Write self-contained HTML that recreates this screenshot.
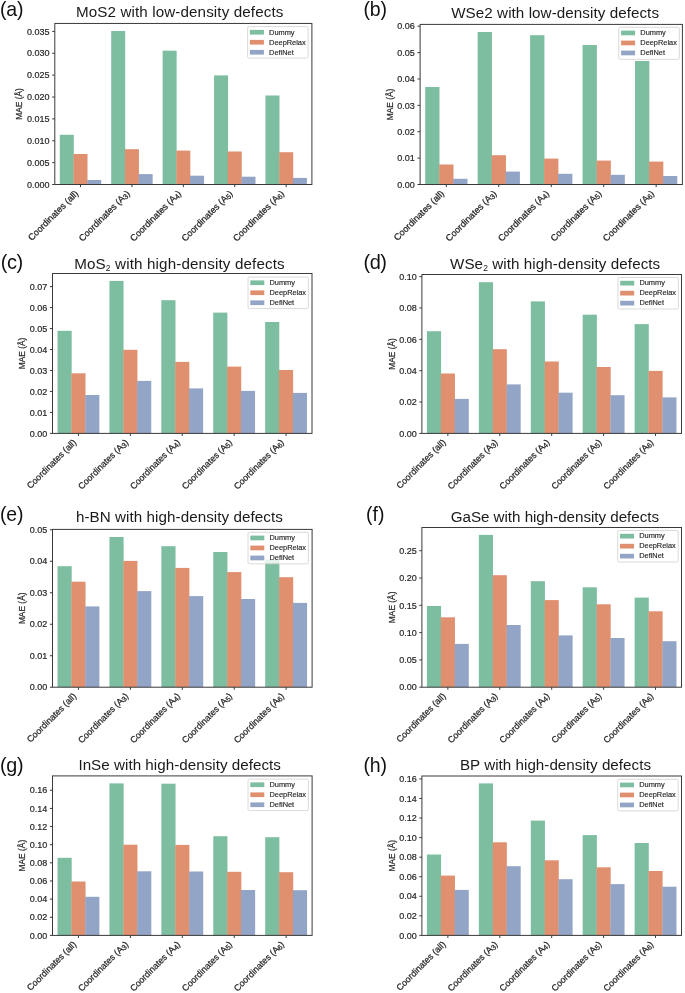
<!DOCTYPE html>
<html><head><meta charset="utf-8"><style>
html,body{margin:0;padding:0;background:#fff;overflow:hidden;}
svg{display:block;font-family:"Liberation Sans", sans-serif;will-change:transform;}
</style></head><body>
<svg width="685" height="993" viewBox="0 0 685 993">
<rect width="685" height="993" fill="#ffffff"/>
<rect x="59.79" y="134.8" width="14.01" height="49.7" fill="#7dbda0"/>
<rect x="73.5" y="154" width="14.01" height="30.5" fill="#e0906f"/>
<rect x="87.22" y="180" width="14.01" height="4.5" fill="#93a5c6"/>
<rect x="111.21" y="31" width="14.01" height="153.5" fill="#7dbda0"/>
<rect x="124.92" y="149.2" width="14.01" height="35.3" fill="#e0906f"/>
<rect x="138.64" y="174.1" width="14.01" height="10.4" fill="#93a5c6"/>
<rect x="162.63" y="50.7" width="14.01" height="133.8" fill="#7dbda0"/>
<rect x="176.34" y="150.6" width="14.01" height="33.9" fill="#e0906f"/>
<rect x="190.06" y="175.7" width="14.01" height="8.8" fill="#93a5c6"/>
<rect x="214.05" y="75.4" width="14.01" height="109.1" fill="#7dbda0"/>
<rect x="227.76" y="151.5" width="14.01" height="33" fill="#e0906f"/>
<rect x="241.48" y="176.7" width="14.01" height="7.8" fill="#93a5c6"/>
<rect x="265.47" y="95.5" width="14.01" height="89" fill="#7dbda0"/>
<rect x="279.18" y="152.2" width="14.01" height="32.3" fill="#e0906f"/>
<rect x="292.9" y="177.9" width="14.01" height="6.6" fill="#93a5c6"/>
<rect x="54.8" y="23.45" width="257.1" height="161.05" fill="none" stroke="#3a3a3a" stroke-width="1"/>
<line x1="52.2" y1="184.5" x2="54.8" y2="184.5" stroke="#3a3a3a" stroke-width="1"/>
<text x="49.6" y="187.7" font-size="9" text-anchor="end" fill="#262626" stroke="#262626" stroke-width="0.2">0.000</text>
<line x1="52.2" y1="162.63" x2="54.8" y2="162.63" stroke="#3a3a3a" stroke-width="1"/>
<text x="49.6" y="165.83" font-size="9" text-anchor="end" fill="#262626" stroke="#262626" stroke-width="0.2">0.005</text>
<line x1="52.2" y1="140.76" x2="54.8" y2="140.76" stroke="#3a3a3a" stroke-width="1"/>
<text x="49.6" y="143.96" font-size="9" text-anchor="end" fill="#262626" stroke="#262626" stroke-width="0.2">0.010</text>
<line x1="52.2" y1="118.89" x2="54.8" y2="118.89" stroke="#3a3a3a" stroke-width="1"/>
<text x="49.6" y="122.09" font-size="9" text-anchor="end" fill="#262626" stroke="#262626" stroke-width="0.2">0.015</text>
<line x1="52.2" y1="97.02" x2="54.8" y2="97.02" stroke="#3a3a3a" stroke-width="1"/>
<text x="49.6" y="100.22" font-size="9" text-anchor="end" fill="#262626" stroke="#262626" stroke-width="0.2">0.020</text>
<line x1="52.2" y1="75.15" x2="54.8" y2="75.15" stroke="#3a3a3a" stroke-width="1"/>
<text x="49.6" y="78.35" font-size="9" text-anchor="end" fill="#262626" stroke="#262626" stroke-width="0.2">0.025</text>
<line x1="52.2" y1="53.28" x2="54.8" y2="53.28" stroke="#3a3a3a" stroke-width="1"/>
<text x="49.6" y="56.48" font-size="9" text-anchor="end" fill="#262626" stroke="#262626" stroke-width="0.2">0.030</text>
<line x1="52.2" y1="31.41" x2="54.8" y2="31.41" stroke="#3a3a3a" stroke-width="1"/>
<text x="49.6" y="34.61" font-size="9" text-anchor="end" fill="#262626" stroke="#262626" stroke-width="0.2">0.035</text>
<line x1="80.51" y1="184.5" x2="80.51" y2="187.1" stroke="#3a3a3a" stroke-width="1"/>
<text transform="translate(78.91,194) rotate(-45)" font-size="9.12" text-anchor="end" fill="#262626" stroke="#262626" stroke-width="0.25">Coordinates (all)</text>
<line x1="131.93" y1="184.5" x2="131.93" y2="187.1" stroke="#3a3a3a" stroke-width="1"/>
<text transform="translate(130.33,194) rotate(-45)" font-size="9.12" text-anchor="end" fill="#262626" stroke="#262626" stroke-width="0.25">Coordinates (A<tspan font-size="7.2" dy="1">3</tspan><tspan dy="-1">)</tspan></text>
<line x1="183.35" y1="184.5" x2="183.35" y2="187.1" stroke="#3a3a3a" stroke-width="1"/>
<text transform="translate(181.75,194) rotate(-45)" font-size="9.12" text-anchor="end" fill="#262626" stroke="#262626" stroke-width="0.25">Coordinates (A<tspan font-size="7.2" dy="1">4</tspan><tspan dy="-1">)</tspan></text>
<line x1="234.77" y1="184.5" x2="234.77" y2="187.1" stroke="#3a3a3a" stroke-width="1"/>
<text transform="translate(233.17,194) rotate(-45)" font-size="9.12" text-anchor="end" fill="#262626" stroke="#262626" stroke-width="0.25">Coordinates (A<tspan font-size="7.2" dy="1">5</tspan><tspan dy="-1">)</tspan></text>
<line x1="286.19" y1="184.5" x2="286.19" y2="187.1" stroke="#3a3a3a" stroke-width="1"/>
<text transform="translate(284.59,194) rotate(-45)" font-size="9.12" text-anchor="end" fill="#262626" stroke="#262626" stroke-width="0.25">Coordinates (A<tspan font-size="7.2" dy="1">6</tspan><tspan dy="-1">)</tspan></text>
<text transform="translate(21.9,103.97) rotate(-90)" font-size="8.4" text-anchor="middle" fill="#262626" stroke="#262626" stroke-width="0.2">MAE (Å)</text>
<rect x="247.6" y="26.6" width="60.5" height="31.5" rx="1.5" fill="#ffffff" fill-opacity="0.8" stroke="#d0d0d0" stroke-width="0.8"/>
<rect x="249.9" y="29.9" width="14" height="4.7" fill="#7dbda0"/>
<text x="269.1" y="34.5" font-size="7.4" fill="#262626" stroke="#262626" stroke-width="0.15">Dummy</text>
<rect x="249.9" y="39.9" width="14" height="4.7" fill="#e0906f"/>
<text x="269.1" y="44.5" font-size="7.4" fill="#262626" stroke="#262626" stroke-width="0.15">DeepRelax</text>
<rect x="249.9" y="49.9" width="14" height="4.7" fill="#93a5c6"/>
<text x="269.1" y="54.5" font-size="7.4" fill="#262626" stroke="#262626" stroke-width="0.15">DefiNet</text>
<text x="75.9" y="17" font-size="15.2" fill="#1a1a1a" textLength="207.5" lengthAdjust="spacing">MoS2 with low-density defects</text>
<text x="-0.11" y="15.86" font-size="19.53" fill="#111" textLength="23.58" lengthAdjust="spacing">(a)</text>
<rect x="425.2" y="87" width="14.29" height="97.5" fill="#7dbda0"/>
<rect x="439.19" y="164.5" width="14.29" height="20" fill="#e0906f"/>
<rect x="453.17" y="178.8" width="14.29" height="5.7" fill="#93a5c6"/>
<rect x="477.66" y="32" width="14.29" height="152.5" fill="#7dbda0"/>
<rect x="491.65" y="155.2" width="14.29" height="29.3" fill="#e0906f"/>
<rect x="505.63" y="171.6" width="14.29" height="12.9" fill="#93a5c6"/>
<rect x="530.12" y="35.2" width="14.29" height="149.3" fill="#7dbda0"/>
<rect x="544.11" y="158.6" width="14.29" height="25.9" fill="#e0906f"/>
<rect x="558.09" y="173.8" width="14.29" height="10.7" fill="#93a5c6"/>
<rect x="582.58" y="45" width="14.29" height="139.5" fill="#7dbda0"/>
<rect x="596.57" y="160.6" width="14.29" height="23.9" fill="#e0906f"/>
<rect x="610.55" y="174.8" width="14.29" height="9.7" fill="#93a5c6"/>
<rect x="635.04" y="61" width="14.29" height="123.5" fill="#7dbda0"/>
<rect x="649.03" y="161.6" width="14.29" height="22.9" fill="#e0906f"/>
<rect x="663.01" y="176" width="14.29" height="8.5" fill="#93a5c6"/>
<rect x="420.1" y="24.4" width="262.3" height="160.1" fill="none" stroke="#3a3a3a" stroke-width="1"/>
<line x1="417.5" y1="184.5" x2="420.1" y2="184.5" stroke="#3a3a3a" stroke-width="1"/>
<text x="414.9" y="187.7" font-size="9" text-anchor="end" fill="#262626" stroke="#262626" stroke-width="0.2">0.00</text>
<line x1="417.5" y1="158.12" x2="420.1" y2="158.12" stroke="#3a3a3a" stroke-width="1"/>
<text x="414.9" y="161.32" font-size="9" text-anchor="end" fill="#262626" stroke="#262626" stroke-width="0.2">0.01</text>
<line x1="417.5" y1="131.74" x2="420.1" y2="131.74" stroke="#3a3a3a" stroke-width="1"/>
<text x="414.9" y="134.94" font-size="9" text-anchor="end" fill="#262626" stroke="#262626" stroke-width="0.2">0.02</text>
<line x1="417.5" y1="105.36" x2="420.1" y2="105.36" stroke="#3a3a3a" stroke-width="1"/>
<text x="414.9" y="108.56" font-size="9" text-anchor="end" fill="#262626" stroke="#262626" stroke-width="0.2">0.03</text>
<line x1="417.5" y1="78.98" x2="420.1" y2="78.98" stroke="#3a3a3a" stroke-width="1"/>
<text x="414.9" y="82.18" font-size="9" text-anchor="end" fill="#262626" stroke="#262626" stroke-width="0.2">0.04</text>
<line x1="417.5" y1="52.6" x2="420.1" y2="52.6" stroke="#3a3a3a" stroke-width="1"/>
<text x="414.9" y="55.8" font-size="9" text-anchor="end" fill="#262626" stroke="#262626" stroke-width="0.2">0.05</text>
<line x1="417.5" y1="26.22" x2="420.1" y2="26.22" stroke="#3a3a3a" stroke-width="1"/>
<text x="414.9" y="29.42" font-size="9" text-anchor="end" fill="#262626" stroke="#262626" stroke-width="0.2">0.06</text>
<line x1="446.33" y1="184.5" x2="446.33" y2="187.1" stroke="#3a3a3a" stroke-width="1"/>
<text transform="translate(444.73,194) rotate(-45)" font-size="9.12" text-anchor="end" fill="#262626" stroke="#262626" stroke-width="0.25">Coordinates (all)</text>
<line x1="498.79" y1="184.5" x2="498.79" y2="187.1" stroke="#3a3a3a" stroke-width="1"/>
<text transform="translate(497.19,194) rotate(-45)" font-size="9.12" text-anchor="end" fill="#262626" stroke="#262626" stroke-width="0.25">Coordinates (A<tspan font-size="7.2" dy="1">3</tspan><tspan dy="-1">)</tspan></text>
<line x1="551.25" y1="184.5" x2="551.25" y2="187.1" stroke="#3a3a3a" stroke-width="1"/>
<text transform="translate(549.65,194) rotate(-45)" font-size="9.12" text-anchor="end" fill="#262626" stroke="#262626" stroke-width="0.25">Coordinates (A<tspan font-size="7.2" dy="1">4</tspan><tspan dy="-1">)</tspan></text>
<line x1="603.71" y1="184.5" x2="603.71" y2="187.1" stroke="#3a3a3a" stroke-width="1"/>
<text transform="translate(602.11,194) rotate(-45)" font-size="9.12" text-anchor="end" fill="#262626" stroke="#262626" stroke-width="0.25">Coordinates (A<tspan font-size="7.2" dy="1">5</tspan><tspan dy="-1">)</tspan></text>
<line x1="656.17" y1="184.5" x2="656.17" y2="187.1" stroke="#3a3a3a" stroke-width="1"/>
<text transform="translate(654.57,194) rotate(-45)" font-size="9.12" text-anchor="end" fill="#262626" stroke="#262626" stroke-width="0.25">Coordinates (A<tspan font-size="7.2" dy="1">6</tspan><tspan dy="-1">)</tspan></text>
<text transform="translate(392.9,104.45) rotate(-90)" font-size="8.4" text-anchor="middle" fill="#262626" stroke="#262626" stroke-width="0.2">MAE (Å)</text>
<rect x="618.8" y="27.3" width="60.5" height="32.1" rx="1.5" fill="#ffffff" fill-opacity="0.8" stroke="#d0d0d0" stroke-width="0.8"/>
<rect x="621.1" y="30.6" width="14" height="4.7" fill="#7dbda0"/>
<text x="640.3" y="35.2" font-size="7.4" fill="#262626" stroke="#262626" stroke-width="0.15">Dummy</text>
<rect x="621.1" y="40.6" width="14" height="4.7" fill="#e0906f"/>
<text x="640.3" y="45.2" font-size="7.4" fill="#262626" stroke="#262626" stroke-width="0.15">DeepRelax</text>
<rect x="621.1" y="50.6" width="14" height="4.7" fill="#93a5c6"/>
<text x="640.3" y="55.2" font-size="7.4" fill="#262626" stroke="#262626" stroke-width="0.15">DefiNet</text>
<text x="451.2" y="17.5" font-size="15.2" fill="#1a1a1a" textLength="207.8" lengthAdjust="spacing">WSe2 with low-density defects</text>
<text x="363.59" y="15.86" font-size="19.53" fill="#111" textLength="23.38" lengthAdjust="spacing">(b)</text>
<rect x="57.54" y="330.8" width="14.14" height="102.6" fill="#7dbda0"/>
<rect x="71.38" y="373.3" width="14.14" height="60.1" fill="#e0906f"/>
<rect x="85.22" y="395" width="14.14" height="38.4" fill="#93a5c6"/>
<rect x="109.44" y="280.9" width="14.14" height="152.5" fill="#7dbda0"/>
<rect x="123.28" y="349.8" width="14.14" height="83.6" fill="#e0906f"/>
<rect x="137.12" y="380.9" width="14.14" height="52.5" fill="#93a5c6"/>
<rect x="161.34" y="300.2" width="14.14" height="133.2" fill="#7dbda0"/>
<rect x="175.18" y="361.9" width="14.14" height="71.5" fill="#e0906f"/>
<rect x="189.02" y="388.4" width="14.14" height="45" fill="#93a5c6"/>
<rect x="213.24" y="312.6" width="14.14" height="120.8" fill="#7dbda0"/>
<rect x="227.08" y="366.6" width="14.14" height="66.8" fill="#e0906f"/>
<rect x="240.92" y="390.9" width="14.14" height="42.5" fill="#93a5c6"/>
<rect x="265.14" y="322" width="14.14" height="111.4" fill="#7dbda0"/>
<rect x="278.98" y="370" width="14.14" height="63.4" fill="#e0906f"/>
<rect x="292.82" y="392.9" width="14.14" height="40.5" fill="#93a5c6"/>
<rect x="52.5" y="273.5" width="259.5" height="159.9" fill="none" stroke="#3a3a3a" stroke-width="1"/>
<line x1="49.9" y1="433.4" x2="52.5" y2="433.4" stroke="#3a3a3a" stroke-width="1"/>
<text x="47.3" y="436.6" font-size="9" text-anchor="end" fill="#262626" stroke="#262626" stroke-width="0.2">0.00</text>
<line x1="49.9" y1="412.43" x2="52.5" y2="412.43" stroke="#3a3a3a" stroke-width="1"/>
<text x="47.3" y="415.63" font-size="9" text-anchor="end" fill="#262626" stroke="#262626" stroke-width="0.2">0.01</text>
<line x1="49.9" y1="391.46" x2="52.5" y2="391.46" stroke="#3a3a3a" stroke-width="1"/>
<text x="47.3" y="394.66" font-size="9" text-anchor="end" fill="#262626" stroke="#262626" stroke-width="0.2">0.02</text>
<line x1="49.9" y1="370.49" x2="52.5" y2="370.49" stroke="#3a3a3a" stroke-width="1"/>
<text x="47.3" y="373.69" font-size="9" text-anchor="end" fill="#262626" stroke="#262626" stroke-width="0.2">0.03</text>
<line x1="49.9" y1="349.52" x2="52.5" y2="349.52" stroke="#3a3a3a" stroke-width="1"/>
<text x="47.3" y="352.72" font-size="9" text-anchor="end" fill="#262626" stroke="#262626" stroke-width="0.2">0.04</text>
<line x1="49.9" y1="328.55" x2="52.5" y2="328.55" stroke="#3a3a3a" stroke-width="1"/>
<text x="47.3" y="331.75" font-size="9" text-anchor="end" fill="#262626" stroke="#262626" stroke-width="0.2">0.05</text>
<line x1="49.9" y1="307.58" x2="52.5" y2="307.58" stroke="#3a3a3a" stroke-width="1"/>
<text x="47.3" y="310.78" font-size="9" text-anchor="end" fill="#262626" stroke="#262626" stroke-width="0.2">0.06</text>
<line x1="49.9" y1="286.61" x2="52.5" y2="286.61" stroke="#3a3a3a" stroke-width="1"/>
<text x="47.3" y="289.81" font-size="9" text-anchor="end" fill="#262626" stroke="#262626" stroke-width="0.2">0.07</text>
<line x1="78.45" y1="433.4" x2="78.45" y2="436" stroke="#3a3a3a" stroke-width="1"/>
<text transform="translate(76.85,442.9) rotate(-45)" font-size="8.94" text-anchor="end" fill="#262626" stroke="#262626" stroke-width="0.25">Coordinates (all)</text>
<line x1="130.35" y1="433.4" x2="130.35" y2="436" stroke="#3a3a3a" stroke-width="1"/>
<text transform="translate(128.75,442.9) rotate(-45)" font-size="8.94" text-anchor="end" fill="#262626" stroke="#262626" stroke-width="0.25">Coordinates (A<tspan font-size="7.2" dy="1">3</tspan><tspan dy="-1">)</tspan></text>
<line x1="182.25" y1="433.4" x2="182.25" y2="436" stroke="#3a3a3a" stroke-width="1"/>
<text transform="translate(180.65,442.9) rotate(-45)" font-size="8.94" text-anchor="end" fill="#262626" stroke="#262626" stroke-width="0.25">Coordinates (A<tspan font-size="7.2" dy="1">4</tspan><tspan dy="-1">)</tspan></text>
<line x1="234.15" y1="433.4" x2="234.15" y2="436" stroke="#3a3a3a" stroke-width="1"/>
<text transform="translate(232.55,442.9) rotate(-45)" font-size="8.94" text-anchor="end" fill="#262626" stroke="#262626" stroke-width="0.25">Coordinates (A<tspan font-size="7.2" dy="1">5</tspan><tspan dy="-1">)</tspan></text>
<line x1="286.05" y1="433.4" x2="286.05" y2="436" stroke="#3a3a3a" stroke-width="1"/>
<text transform="translate(284.45,442.9) rotate(-45)" font-size="8.94" text-anchor="end" fill="#262626" stroke="#262626" stroke-width="0.25">Coordinates (A<tspan font-size="7.2" dy="1">6</tspan><tspan dy="-1">)</tspan></text>
<text transform="translate(25.4,353.45) rotate(-90)" font-size="8.4" text-anchor="middle" fill="#262626" stroke="#262626" stroke-width="0.2">MAE (Å)</text>
<rect x="248" y="277.1" width="60.4" height="31.5" rx="1.5" fill="#ffffff" fill-opacity="0.8" stroke="#d0d0d0" stroke-width="0.8"/>
<rect x="250.3" y="280.4" width="14" height="4.7" fill="#7dbda0"/>
<text x="269.5" y="285" font-size="7.4" fill="#262626" stroke="#262626" stroke-width="0.15">Dummy</text>
<rect x="250.3" y="290.4" width="14" height="4.7" fill="#e0906f"/>
<text x="269.5" y="295" font-size="7.4" fill="#262626" stroke="#262626" stroke-width="0.15">DeepRelax</text>
<rect x="250.3" y="300.4" width="14" height="4.7" fill="#93a5c6"/>
<text x="269.5" y="305" font-size="7.4" fill="#262626" stroke="#262626" stroke-width="0.15">DefiNet</text>
<text x="74.2" y="268.5" font-size="15.2" fill="#1a1a1a" textLength="210.5" lengthAdjust="spacing">MoS<tspan font-size="8.5" dy="2.2">2</tspan><tspan dy="-2.2"> with high-density defects</tspan></text>
<text x="0.76" y="269.27" font-size="19.96" fill="#111" textLength="22.33" lengthAdjust="spacing">(c)</text>
<rect x="426.94" y="331.2" width="14.15" height="102.2" fill="#7dbda0"/>
<rect x="440.79" y="373.5" width="14.15" height="59.9" fill="#e0906f"/>
<rect x="454.63" y="398.9" width="14.15" height="34.5" fill="#93a5c6"/>
<rect x="478.86" y="282.2" width="14.15" height="151.2" fill="#7dbda0"/>
<rect x="492.71" y="349.2" width="14.15" height="84.2" fill="#e0906f"/>
<rect x="506.55" y="384.4" width="14.15" height="49" fill="#93a5c6"/>
<rect x="530.78" y="301.4" width="14.15" height="132" fill="#7dbda0"/>
<rect x="544.63" y="361.5" width="14.15" height="71.9" fill="#e0906f"/>
<rect x="558.47" y="392.7" width="14.15" height="40.7" fill="#93a5c6"/>
<rect x="582.7" y="314.7" width="14.15" height="118.7" fill="#7dbda0"/>
<rect x="596.55" y="367" width="14.15" height="66.4" fill="#e0906f"/>
<rect x="610.39" y="395.2" width="14.15" height="38.2" fill="#93a5c6"/>
<rect x="634.62" y="324.1" width="14.15" height="109.3" fill="#7dbda0"/>
<rect x="648.47" y="370.9" width="14.15" height="62.5" fill="#e0906f"/>
<rect x="662.31" y="397.4" width="14.15" height="36" fill="#93a5c6"/>
<rect x="421.9" y="274.5" width="259.6" height="158.9" fill="none" stroke="#3a3a3a" stroke-width="1"/>
<line x1="419.3" y1="433.4" x2="421.9" y2="433.4" stroke="#3a3a3a" stroke-width="1"/>
<text x="416.7" y="436.6" font-size="9" text-anchor="end" fill="#262626" stroke="#262626" stroke-width="0.2">0.00</text>
<line x1="419.3" y1="402.04" x2="421.9" y2="402.04" stroke="#3a3a3a" stroke-width="1"/>
<text x="416.7" y="405.24" font-size="9" text-anchor="end" fill="#262626" stroke="#262626" stroke-width="0.2">0.02</text>
<line x1="419.3" y1="370.68" x2="421.9" y2="370.68" stroke="#3a3a3a" stroke-width="1"/>
<text x="416.7" y="373.88" font-size="9" text-anchor="end" fill="#262626" stroke="#262626" stroke-width="0.2">0.04</text>
<line x1="419.3" y1="339.32" x2="421.9" y2="339.32" stroke="#3a3a3a" stroke-width="1"/>
<text x="416.7" y="342.52" font-size="9" text-anchor="end" fill="#262626" stroke="#262626" stroke-width="0.2">0.06</text>
<line x1="419.3" y1="307.96" x2="421.9" y2="307.96" stroke="#3a3a3a" stroke-width="1"/>
<text x="416.7" y="311.16" font-size="9" text-anchor="end" fill="#262626" stroke="#262626" stroke-width="0.2">0.08</text>
<line x1="419.3" y1="276.6" x2="421.9" y2="276.6" stroke="#3a3a3a" stroke-width="1"/>
<text x="416.7" y="279.8" font-size="9" text-anchor="end" fill="#262626" stroke="#262626" stroke-width="0.2">0.10</text>
<line x1="447.86" y1="433.4" x2="447.86" y2="436" stroke="#3a3a3a" stroke-width="1"/>
<text transform="translate(446.26,442.9) rotate(-45)" font-size="8.94" text-anchor="end" fill="#262626" stroke="#262626" stroke-width="0.25">Coordinates (all)</text>
<line x1="499.78" y1="433.4" x2="499.78" y2="436" stroke="#3a3a3a" stroke-width="1"/>
<text transform="translate(498.18,442.9) rotate(-45)" font-size="8.94" text-anchor="end" fill="#262626" stroke="#262626" stroke-width="0.25">Coordinates (A<tspan font-size="7.2" dy="1">3</tspan><tspan dy="-1">)</tspan></text>
<line x1="551.7" y1="433.4" x2="551.7" y2="436" stroke="#3a3a3a" stroke-width="1"/>
<text transform="translate(550.1,442.9) rotate(-45)" font-size="8.94" text-anchor="end" fill="#262626" stroke="#262626" stroke-width="0.25">Coordinates (A<tspan font-size="7.2" dy="1">4</tspan><tspan dy="-1">)</tspan></text>
<line x1="603.62" y1="433.4" x2="603.62" y2="436" stroke="#3a3a3a" stroke-width="1"/>
<text transform="translate(602.02,442.9) rotate(-45)" font-size="8.94" text-anchor="end" fill="#262626" stroke="#262626" stroke-width="0.25">Coordinates (A<tspan font-size="7.2" dy="1">5</tspan><tspan dy="-1">)</tspan></text>
<line x1="655.54" y1="433.4" x2="655.54" y2="436" stroke="#3a3a3a" stroke-width="1"/>
<text transform="translate(653.94,442.9) rotate(-45)" font-size="8.94" text-anchor="end" fill="#262626" stroke="#262626" stroke-width="0.25">Coordinates (A<tspan font-size="7.2" dy="1">6</tspan><tspan dy="-1">)</tspan></text>
<text transform="translate(395.4,353.95) rotate(-90)" font-size="8.4" text-anchor="middle" fill="#262626" stroke="#262626" stroke-width="0.2">MAE (Å)</text>
<rect x="617.9" y="277.5" width="60.5" height="31.5" rx="1.5" fill="#ffffff" fill-opacity="0.8" stroke="#d0d0d0" stroke-width="0.8"/>
<rect x="620.2" y="280.8" width="14" height="4.7" fill="#7dbda0"/>
<text x="639.4" y="285.4" font-size="7.4" fill="#262626" stroke="#262626" stroke-width="0.15">Dummy</text>
<rect x="620.2" y="290.8" width="14" height="4.7" fill="#e0906f"/>
<text x="639.4" y="295.4" font-size="7.4" fill="#262626" stroke="#262626" stroke-width="0.15">DeepRelax</text>
<rect x="620.2" y="300.8" width="14" height="4.7" fill="#93a5c6"/>
<text x="639.4" y="305.4" font-size="7.4" fill="#262626" stroke="#262626" stroke-width="0.15">DefiNet</text>
<text x="450" y="268.5" font-size="15.2" fill="#1a1a1a" textLength="210.2" lengthAdjust="spacing">WSe<tspan font-size="8.5" dy="2.2">2</tspan><tspan dy="-2.2"> with high-density defects</tspan></text>
<text x="363.56" y="269.27" font-size="19.96" fill="#111" textLength="23.43" lengthAdjust="spacing">(d)</text>
<rect x="57.54" y="566.2" width="14.15" height="121" fill="#7dbda0"/>
<rect x="71.39" y="581.7" width="14.15" height="105.5" fill="#e0906f"/>
<rect x="85.23" y="606.4" width="14.15" height="80.8" fill="#93a5c6"/>
<rect x="109.46" y="537" width="14.15" height="150.2" fill="#7dbda0"/>
<rect x="123.31" y="560.9" width="14.15" height="126.3" fill="#e0906f"/>
<rect x="137.15" y="591.1" width="14.15" height="96.1" fill="#93a5c6"/>
<rect x="161.38" y="546.2" width="14.15" height="141" fill="#7dbda0"/>
<rect x="175.23" y="567.9" width="14.15" height="119.3" fill="#e0906f"/>
<rect x="189.07" y="596.1" width="14.15" height="91.1" fill="#93a5c6"/>
<rect x="213.3" y="552" width="14.15" height="135.2" fill="#7dbda0"/>
<rect x="227.15" y="572.1" width="14.15" height="115.1" fill="#e0906f"/>
<rect x="240.99" y="599" width="14.15" height="88.2" fill="#93a5c6"/>
<rect x="265.22" y="559.5" width="14.15" height="127.7" fill="#7dbda0"/>
<rect x="279.07" y="577.2" width="14.15" height="110" fill="#e0906f"/>
<rect x="292.91" y="602.9" width="14.15" height="84.3" fill="#93a5c6"/>
<rect x="52.5" y="529.4" width="259.6" height="157.8" fill="none" stroke="#3a3a3a" stroke-width="1"/>
<line x1="49.9" y1="687.2" x2="52.5" y2="687.2" stroke="#3a3a3a" stroke-width="1"/>
<text x="47.3" y="690.4" font-size="9" text-anchor="end" fill="#262626" stroke="#262626" stroke-width="0.2">0.00</text>
<line x1="49.9" y1="655.72" x2="52.5" y2="655.72" stroke="#3a3a3a" stroke-width="1"/>
<text x="47.3" y="658.92" font-size="9" text-anchor="end" fill="#262626" stroke="#262626" stroke-width="0.2">0.01</text>
<line x1="49.9" y1="624.24" x2="52.5" y2="624.24" stroke="#3a3a3a" stroke-width="1"/>
<text x="47.3" y="627.44" font-size="9" text-anchor="end" fill="#262626" stroke="#262626" stroke-width="0.2">0.02</text>
<line x1="49.9" y1="592.76" x2="52.5" y2="592.76" stroke="#3a3a3a" stroke-width="1"/>
<text x="47.3" y="595.96" font-size="9" text-anchor="end" fill="#262626" stroke="#262626" stroke-width="0.2">0.03</text>
<line x1="49.9" y1="561.28" x2="52.5" y2="561.28" stroke="#3a3a3a" stroke-width="1"/>
<text x="47.3" y="564.48" font-size="9" text-anchor="end" fill="#262626" stroke="#262626" stroke-width="0.2">0.04</text>
<line x1="49.9" y1="529.8" x2="52.5" y2="529.8" stroke="#3a3a3a" stroke-width="1"/>
<text x="47.3" y="533" font-size="9" text-anchor="end" fill="#262626" stroke="#262626" stroke-width="0.2">0.05</text>
<line x1="78.46" y1="687.2" x2="78.46" y2="689.8" stroke="#3a3a3a" stroke-width="1"/>
<text transform="translate(76.86,696.7) rotate(-45)" font-size="8.94" text-anchor="end" fill="#262626" stroke="#262626" stroke-width="0.25">Coordinates (all)</text>
<line x1="130.38" y1="687.2" x2="130.38" y2="689.8" stroke="#3a3a3a" stroke-width="1"/>
<text transform="translate(128.78,696.7) rotate(-45)" font-size="8.94" text-anchor="end" fill="#262626" stroke="#262626" stroke-width="0.25">Coordinates (A<tspan font-size="7.2" dy="1">3</tspan><tspan dy="-1">)</tspan></text>
<line x1="182.3" y1="687.2" x2="182.3" y2="689.8" stroke="#3a3a3a" stroke-width="1"/>
<text transform="translate(180.7,696.7) rotate(-45)" font-size="8.94" text-anchor="end" fill="#262626" stroke="#262626" stroke-width="0.25">Coordinates (A<tspan font-size="7.2" dy="1">4</tspan><tspan dy="-1">)</tspan></text>
<line x1="234.22" y1="687.2" x2="234.22" y2="689.8" stroke="#3a3a3a" stroke-width="1"/>
<text transform="translate(232.62,696.7) rotate(-45)" font-size="8.94" text-anchor="end" fill="#262626" stroke="#262626" stroke-width="0.25">Coordinates (A<tspan font-size="7.2" dy="1">5</tspan><tspan dy="-1">)</tspan></text>
<line x1="286.14" y1="687.2" x2="286.14" y2="689.8" stroke="#3a3a3a" stroke-width="1"/>
<text transform="translate(284.54,696.7) rotate(-45)" font-size="8.94" text-anchor="end" fill="#262626" stroke="#262626" stroke-width="0.25">Coordinates (A<tspan font-size="7.2" dy="1">6</tspan><tspan dy="-1">)</tspan></text>
<text transform="translate(25.4,608.3) rotate(-90)" font-size="8.4" text-anchor="middle" fill="#262626" stroke="#262626" stroke-width="0.2">MAE (Å)</text>
<rect x="248" y="532.3" width="60.4" height="31.5" rx="1.5" fill="#ffffff" fill-opacity="0.8" stroke="#d0d0d0" stroke-width="0.8"/>
<rect x="250.3" y="535.6" width="14" height="4.7" fill="#7dbda0"/>
<text x="269.5" y="540.2" font-size="7.4" fill="#262626" stroke="#262626" stroke-width="0.15">Dummy</text>
<rect x="250.3" y="545.6" width="14" height="4.7" fill="#e0906f"/>
<text x="269.5" y="550.2" font-size="7.4" fill="#262626" stroke="#262626" stroke-width="0.15">DeepRelax</text>
<rect x="250.3" y="555.6" width="14" height="4.7" fill="#93a5c6"/>
<text x="269.5" y="560.2" font-size="7.4" fill="#262626" stroke="#262626" stroke-width="0.15">DefiNet</text>
<text x="75.9" y="522.2" font-size="15.2" fill="#1a1a1a" textLength="207" lengthAdjust="spacing">h-BN with high-density defects</text>
<text x="-0.1" y="520.58" font-size="19.42" fill="#111" textLength="23.57" lengthAdjust="spacing">(e)</text>
<rect x="426.94" y="606" width="14.15" height="81.2" fill="#7dbda0"/>
<rect x="440.79" y="617.3" width="14.15" height="69.9" fill="#e0906f"/>
<rect x="454.63" y="643.9" width="14.15" height="43.3" fill="#93a5c6"/>
<rect x="478.86" y="534.9" width="14.15" height="152.3" fill="#7dbda0"/>
<rect x="492.71" y="575.2" width="14.15" height="112" fill="#e0906f"/>
<rect x="506.55" y="625" width="14.15" height="62.2" fill="#93a5c6"/>
<rect x="530.78" y="581.2" width="14.15" height="106" fill="#7dbda0"/>
<rect x="544.63" y="600.1" width="14.15" height="87.1" fill="#e0906f"/>
<rect x="558.47" y="635.4" width="14.15" height="51.8" fill="#93a5c6"/>
<rect x="582.7" y="587.3" width="14.15" height="99.9" fill="#7dbda0"/>
<rect x="596.55" y="604.3" width="14.15" height="82.9" fill="#e0906f"/>
<rect x="610.39" y="638" width="14.15" height="49.2" fill="#93a5c6"/>
<rect x="634.62" y="597.6" width="14.15" height="89.6" fill="#7dbda0"/>
<rect x="648.47" y="611.3" width="14.15" height="75.9" fill="#e0906f"/>
<rect x="662.31" y="641.2" width="14.15" height="46" fill="#93a5c6"/>
<rect x="421.9" y="527.5" width="259.6" height="159.7" fill="none" stroke="#3a3a3a" stroke-width="1"/>
<line x1="419.3" y1="687.2" x2="421.9" y2="687.2" stroke="#3a3a3a" stroke-width="1"/>
<text x="416.7" y="690.4" font-size="9" text-anchor="end" fill="#262626" stroke="#262626" stroke-width="0.2">0.00</text>
<line x1="419.3" y1="659.9" x2="421.9" y2="659.9" stroke="#3a3a3a" stroke-width="1"/>
<text x="416.7" y="663.1" font-size="9" text-anchor="end" fill="#262626" stroke="#262626" stroke-width="0.2">0.05</text>
<line x1="419.3" y1="632.6" x2="421.9" y2="632.6" stroke="#3a3a3a" stroke-width="1"/>
<text x="416.7" y="635.8" font-size="9" text-anchor="end" fill="#262626" stroke="#262626" stroke-width="0.2">0.10</text>
<line x1="419.3" y1="605.3" x2="421.9" y2="605.3" stroke="#3a3a3a" stroke-width="1"/>
<text x="416.7" y="608.5" font-size="9" text-anchor="end" fill="#262626" stroke="#262626" stroke-width="0.2">0.15</text>
<line x1="419.3" y1="578" x2="421.9" y2="578" stroke="#3a3a3a" stroke-width="1"/>
<text x="416.7" y="581.2" font-size="9" text-anchor="end" fill="#262626" stroke="#262626" stroke-width="0.2">0.20</text>
<line x1="419.3" y1="550.7" x2="421.9" y2="550.7" stroke="#3a3a3a" stroke-width="1"/>
<text x="416.7" y="553.9" font-size="9" text-anchor="end" fill="#262626" stroke="#262626" stroke-width="0.2">0.25</text>
<line x1="447.86" y1="687.2" x2="447.86" y2="689.8" stroke="#3a3a3a" stroke-width="1"/>
<text transform="translate(446.26,696.7) rotate(-45)" font-size="8.94" text-anchor="end" fill="#262626" stroke="#262626" stroke-width="0.25">Coordinates (all)</text>
<line x1="499.78" y1="687.2" x2="499.78" y2="689.8" stroke="#3a3a3a" stroke-width="1"/>
<text transform="translate(498.18,696.7) rotate(-45)" font-size="8.94" text-anchor="end" fill="#262626" stroke="#262626" stroke-width="0.25">Coordinates (A<tspan font-size="7.2" dy="1">3</tspan><tspan dy="-1">)</tspan></text>
<line x1="551.7" y1="687.2" x2="551.7" y2="689.8" stroke="#3a3a3a" stroke-width="1"/>
<text transform="translate(550.1,696.7) rotate(-45)" font-size="8.94" text-anchor="end" fill="#262626" stroke="#262626" stroke-width="0.25">Coordinates (A<tspan font-size="7.2" dy="1">4</tspan><tspan dy="-1">)</tspan></text>
<line x1="603.62" y1="687.2" x2="603.62" y2="689.8" stroke="#3a3a3a" stroke-width="1"/>
<text transform="translate(602.02,696.7) rotate(-45)" font-size="8.94" text-anchor="end" fill="#262626" stroke="#262626" stroke-width="0.25">Coordinates (A<tspan font-size="7.2" dy="1">5</tspan><tspan dy="-1">)</tspan></text>
<line x1="655.54" y1="687.2" x2="655.54" y2="689.8" stroke="#3a3a3a" stroke-width="1"/>
<text transform="translate(653.94,696.7) rotate(-45)" font-size="8.94" text-anchor="end" fill="#262626" stroke="#262626" stroke-width="0.25">Coordinates (A<tspan font-size="7.2" dy="1">6</tspan><tspan dy="-1">)</tspan></text>
<text transform="translate(395.4,607.35) rotate(-90)" font-size="8.4" text-anchor="middle" fill="#262626" stroke="#262626" stroke-width="0.2">MAE (Å)</text>
<rect x="617.7" y="530.5" width="60.5" height="31.5" rx="1.5" fill="#ffffff" fill-opacity="0.8" stroke="#d0d0d0" stroke-width="0.8"/>
<rect x="620" y="533.8" width="14" height="4.7" fill="#7dbda0"/>
<text x="639.2" y="538.4" font-size="7.4" fill="#262626" stroke="#262626" stroke-width="0.15">Dummy</text>
<rect x="620" y="543.8" width="14" height="4.7" fill="#e0906f"/>
<text x="639.2" y="548.4" font-size="7.4" fill="#262626" stroke="#262626" stroke-width="0.15">DeepRelax</text>
<rect x="620" y="553.8" width="14" height="4.7" fill="#93a5c6"/>
<text x="639.2" y="558.4" font-size="7.4" fill="#262626" stroke="#262626" stroke-width="0.15">DefiNet</text>
<text x="450.7" y="522.4" font-size="15.2" fill="#1a1a1a" textLength="208.3" lengthAdjust="spacing">GaSe with high-density defects</text>
<text x="366" y="520.58" font-size="19.42" fill="#111" textLength="18.37" lengthAdjust="spacing">(f)</text>
<rect x="57.54" y="857.8" width="14.15" height="77.6" fill="#7dbda0"/>
<rect x="71.39" y="881.5" width="14.15" height="53.9" fill="#e0906f"/>
<rect x="85.23" y="896.8" width="14.15" height="38.6" fill="#93a5c6"/>
<rect x="109.46" y="783.4" width="14.15" height="152" fill="#7dbda0"/>
<rect x="123.31" y="844.7" width="14.15" height="90.7" fill="#e0906f"/>
<rect x="137.15" y="871.3" width="14.15" height="64.1" fill="#93a5c6"/>
<rect x="161.38" y="783.7" width="14.15" height="151.7" fill="#7dbda0"/>
<rect x="175.23" y="844.9" width="14.15" height="90.5" fill="#e0906f"/>
<rect x="189.07" y="871.5" width="14.15" height="63.9" fill="#93a5c6"/>
<rect x="213.3" y="836.2" width="14.15" height="99.2" fill="#7dbda0"/>
<rect x="227.15" y="871.8" width="14.15" height="63.6" fill="#e0906f"/>
<rect x="240.99" y="890" width="14.15" height="45.4" fill="#93a5c6"/>
<rect x="265.22" y="837.2" width="14.15" height="98.2" fill="#7dbda0"/>
<rect x="279.07" y="872.2" width="14.15" height="63.2" fill="#e0906f"/>
<rect x="292.91" y="890.2" width="14.15" height="45.2" fill="#93a5c6"/>
<rect x="52.5" y="775.9" width="259.6" height="159.5" fill="none" stroke="#3a3a3a" stroke-width="1"/>
<line x1="49.9" y1="935.4" x2="52.5" y2="935.4" stroke="#3a3a3a" stroke-width="1"/>
<text x="47.3" y="938.6" font-size="9" text-anchor="end" fill="#262626" stroke="#262626" stroke-width="0.2">0.00</text>
<line x1="49.9" y1="917.26" x2="52.5" y2="917.26" stroke="#3a3a3a" stroke-width="1"/>
<text x="47.3" y="920.46" font-size="9" text-anchor="end" fill="#262626" stroke="#262626" stroke-width="0.2">0.02</text>
<line x1="49.9" y1="899.12" x2="52.5" y2="899.12" stroke="#3a3a3a" stroke-width="1"/>
<text x="47.3" y="902.32" font-size="9" text-anchor="end" fill="#262626" stroke="#262626" stroke-width="0.2">0.04</text>
<line x1="49.9" y1="880.98" x2="52.5" y2="880.98" stroke="#3a3a3a" stroke-width="1"/>
<text x="47.3" y="884.18" font-size="9" text-anchor="end" fill="#262626" stroke="#262626" stroke-width="0.2">0.06</text>
<line x1="49.9" y1="862.84" x2="52.5" y2="862.84" stroke="#3a3a3a" stroke-width="1"/>
<text x="47.3" y="866.04" font-size="9" text-anchor="end" fill="#262626" stroke="#262626" stroke-width="0.2">0.08</text>
<line x1="49.9" y1="844.7" x2="52.5" y2="844.7" stroke="#3a3a3a" stroke-width="1"/>
<text x="47.3" y="847.9" font-size="9" text-anchor="end" fill="#262626" stroke="#262626" stroke-width="0.2">0.10</text>
<line x1="49.9" y1="826.56" x2="52.5" y2="826.56" stroke="#3a3a3a" stroke-width="1"/>
<text x="47.3" y="829.76" font-size="9" text-anchor="end" fill="#262626" stroke="#262626" stroke-width="0.2">0.12</text>
<line x1="49.9" y1="808.42" x2="52.5" y2="808.42" stroke="#3a3a3a" stroke-width="1"/>
<text x="47.3" y="811.62" font-size="9" text-anchor="end" fill="#262626" stroke="#262626" stroke-width="0.2">0.14</text>
<line x1="49.9" y1="790.28" x2="52.5" y2="790.28" stroke="#3a3a3a" stroke-width="1"/>
<text x="47.3" y="793.48" font-size="9" text-anchor="end" fill="#262626" stroke="#262626" stroke-width="0.2">0.16</text>
<line x1="78.46" y1="935.4" x2="78.46" y2="938" stroke="#3a3a3a" stroke-width="1"/>
<text transform="translate(76.86,944.9) rotate(-45)" font-size="8.94" text-anchor="end" fill="#262626" stroke="#262626" stroke-width="0.25">Coordinates (all)</text>
<line x1="130.38" y1="935.4" x2="130.38" y2="938" stroke="#3a3a3a" stroke-width="1"/>
<text transform="translate(128.78,944.9) rotate(-45)" font-size="8.94" text-anchor="end" fill="#262626" stroke="#262626" stroke-width="0.25">Coordinates (A<tspan font-size="7.2" dy="1">3</tspan><tspan dy="-1">)</tspan></text>
<line x1="182.3" y1="935.4" x2="182.3" y2="938" stroke="#3a3a3a" stroke-width="1"/>
<text transform="translate(180.7,944.9) rotate(-45)" font-size="8.94" text-anchor="end" fill="#262626" stroke="#262626" stroke-width="0.25">Coordinates (A<tspan font-size="7.2" dy="1">4</tspan><tspan dy="-1">)</tspan></text>
<line x1="234.22" y1="935.4" x2="234.22" y2="938" stroke="#3a3a3a" stroke-width="1"/>
<text transform="translate(232.62,944.9) rotate(-45)" font-size="8.94" text-anchor="end" fill="#262626" stroke="#262626" stroke-width="0.25">Coordinates (A<tspan font-size="7.2" dy="1">5</tspan><tspan dy="-1">)</tspan></text>
<line x1="286.14" y1="935.4" x2="286.14" y2="938" stroke="#3a3a3a" stroke-width="1"/>
<text transform="translate(284.54,944.9) rotate(-45)" font-size="8.94" text-anchor="end" fill="#262626" stroke="#262626" stroke-width="0.25">Coordinates (A<tspan font-size="7.2" dy="1">6</tspan><tspan dy="-1">)</tspan></text>
<text transform="translate(25.4,855.65) rotate(-90)" font-size="8.4" text-anchor="middle" fill="#262626" stroke="#262626" stroke-width="0.2">MAE (Å)</text>
<rect x="248" y="779.1" width="60.4" height="31.5" rx="1.5" fill="#ffffff" fill-opacity="0.8" stroke="#d0d0d0" stroke-width="0.8"/>
<rect x="250.3" y="782.4" width="14" height="4.7" fill="#7dbda0"/>
<text x="269.5" y="787" font-size="7.4" fill="#262626" stroke="#262626" stroke-width="0.15">Dummy</text>
<rect x="250.3" y="792.4" width="14" height="4.7" fill="#e0906f"/>
<text x="269.5" y="797" font-size="7.4" fill="#262626" stroke="#262626" stroke-width="0.15">DeepRelax</text>
<rect x="250.3" y="802.4" width="14" height="4.7" fill="#93a5c6"/>
<text x="269.5" y="807" font-size="7.4" fill="#262626" stroke="#262626" stroke-width="0.15">DefiNet</text>
<text x="78.4" y="770.4" font-size="15.2" fill="#1a1a1a" textLength="202.5" lengthAdjust="spacing">InSe with high-density defects</text>
<text x="-0.12" y="771.91" font-size="19.74" fill="#111" textLength="23.61" lengthAdjust="spacing">(g)</text>
<rect x="426.94" y="854.5" width="14.15" height="80.9" fill="#7dbda0"/>
<rect x="440.79" y="875.6" width="14.15" height="59.8" fill="#e0906f"/>
<rect x="454.63" y="889.9" width="14.15" height="45.5" fill="#93a5c6"/>
<rect x="478.86" y="783.4" width="14.15" height="152" fill="#7dbda0"/>
<rect x="492.71" y="842.3" width="14.15" height="93.1" fill="#e0906f"/>
<rect x="506.55" y="866.2" width="14.15" height="69.2" fill="#93a5c6"/>
<rect x="530.78" y="820.6" width="14.15" height="114.8" fill="#7dbda0"/>
<rect x="544.63" y="860.3" width="14.15" height="75.1" fill="#e0906f"/>
<rect x="558.47" y="879.2" width="14.15" height="56.2" fill="#93a5c6"/>
<rect x="582.7" y="835.1" width="14.15" height="100.3" fill="#7dbda0"/>
<rect x="596.55" y="867.3" width="14.15" height="68.1" fill="#e0906f"/>
<rect x="610.39" y="884.1" width="14.15" height="51.3" fill="#93a5c6"/>
<rect x="634.62" y="843" width="14.15" height="92.4" fill="#7dbda0"/>
<rect x="648.47" y="871" width="14.15" height="64.4" fill="#e0906f"/>
<rect x="662.31" y="886.7" width="14.15" height="48.7" fill="#93a5c6"/>
<rect x="421.9" y="776" width="259.6" height="159.4" fill="none" stroke="#3a3a3a" stroke-width="1"/>
<line x1="419.3" y1="935.4" x2="421.9" y2="935.4" stroke="#3a3a3a" stroke-width="1"/>
<text x="416.7" y="938.6" font-size="9" text-anchor="end" fill="#262626" stroke="#262626" stroke-width="0.2">0.00</text>
<line x1="419.3" y1="915.84" x2="421.9" y2="915.84" stroke="#3a3a3a" stroke-width="1"/>
<text x="416.7" y="919.04" font-size="9" text-anchor="end" fill="#262626" stroke="#262626" stroke-width="0.2">0.02</text>
<line x1="419.3" y1="896.28" x2="421.9" y2="896.28" stroke="#3a3a3a" stroke-width="1"/>
<text x="416.7" y="899.48" font-size="9" text-anchor="end" fill="#262626" stroke="#262626" stroke-width="0.2">0.04</text>
<line x1="419.3" y1="876.72" x2="421.9" y2="876.72" stroke="#3a3a3a" stroke-width="1"/>
<text x="416.7" y="879.92" font-size="9" text-anchor="end" fill="#262626" stroke="#262626" stroke-width="0.2">0.06</text>
<line x1="419.3" y1="857.16" x2="421.9" y2="857.16" stroke="#3a3a3a" stroke-width="1"/>
<text x="416.7" y="860.36" font-size="9" text-anchor="end" fill="#262626" stroke="#262626" stroke-width="0.2">0.08</text>
<line x1="419.3" y1="837.6" x2="421.9" y2="837.6" stroke="#3a3a3a" stroke-width="1"/>
<text x="416.7" y="840.8" font-size="9" text-anchor="end" fill="#262626" stroke="#262626" stroke-width="0.2">0.10</text>
<line x1="419.3" y1="818.04" x2="421.9" y2="818.04" stroke="#3a3a3a" stroke-width="1"/>
<text x="416.7" y="821.24" font-size="9" text-anchor="end" fill="#262626" stroke="#262626" stroke-width="0.2">0.12</text>
<line x1="419.3" y1="798.48" x2="421.9" y2="798.48" stroke="#3a3a3a" stroke-width="1"/>
<text x="416.7" y="801.68" font-size="9" text-anchor="end" fill="#262626" stroke="#262626" stroke-width="0.2">0.14</text>
<line x1="419.3" y1="778.92" x2="421.9" y2="778.92" stroke="#3a3a3a" stroke-width="1"/>
<text x="416.7" y="782.12" font-size="9" text-anchor="end" fill="#262626" stroke="#262626" stroke-width="0.2">0.16</text>
<line x1="447.86" y1="935.4" x2="447.86" y2="938" stroke="#3a3a3a" stroke-width="1"/>
<text transform="translate(446.26,944.9) rotate(-45)" font-size="8.94" text-anchor="end" fill="#262626" stroke="#262626" stroke-width="0.25">Coordinates (all)</text>
<line x1="499.78" y1="935.4" x2="499.78" y2="938" stroke="#3a3a3a" stroke-width="1"/>
<text transform="translate(498.18,944.9) rotate(-45)" font-size="8.94" text-anchor="end" fill="#262626" stroke="#262626" stroke-width="0.25">Coordinates (A<tspan font-size="7.2" dy="1">3</tspan><tspan dy="-1">)</tspan></text>
<line x1="551.7" y1="935.4" x2="551.7" y2="938" stroke="#3a3a3a" stroke-width="1"/>
<text transform="translate(550.1,944.9) rotate(-45)" font-size="8.94" text-anchor="end" fill="#262626" stroke="#262626" stroke-width="0.25">Coordinates (A<tspan font-size="7.2" dy="1">4</tspan><tspan dy="-1">)</tspan></text>
<line x1="603.62" y1="935.4" x2="603.62" y2="938" stroke="#3a3a3a" stroke-width="1"/>
<text transform="translate(602.02,944.9) rotate(-45)" font-size="8.94" text-anchor="end" fill="#262626" stroke="#262626" stroke-width="0.25">Coordinates (A<tspan font-size="7.2" dy="1">5</tspan><tspan dy="-1">)</tspan></text>
<line x1="655.54" y1="935.4" x2="655.54" y2="938" stroke="#3a3a3a" stroke-width="1"/>
<text transform="translate(653.94,944.9) rotate(-45)" font-size="8.94" text-anchor="end" fill="#262626" stroke="#262626" stroke-width="0.25">Coordinates (A<tspan font-size="7.2" dy="1">6</tspan><tspan dy="-1">)</tspan></text>
<text transform="translate(395.4,855.7) rotate(-90)" font-size="8.4" text-anchor="middle" fill="#262626" stroke="#262626" stroke-width="0.2">MAE (Å)</text>
<rect x="617.7" y="779.3" width="60.5" height="31.5" rx="1.5" fill="#ffffff" fill-opacity="0.8" stroke="#d0d0d0" stroke-width="0.8"/>
<rect x="620" y="782.6" width="14" height="4.7" fill="#7dbda0"/>
<text x="639.2" y="787.2" font-size="7.4" fill="#262626" stroke="#262626" stroke-width="0.15">Dummy</text>
<rect x="620" y="792.6" width="14" height="4.7" fill="#e0906f"/>
<text x="639.2" y="797.2" font-size="7.4" fill="#262626" stroke="#262626" stroke-width="0.15">DeepRelax</text>
<rect x="620" y="802.6" width="14" height="4.7" fill="#93a5c6"/>
<text x="639.2" y="807.2" font-size="7.4" fill="#262626" stroke="#262626" stroke-width="0.15">DefiNet</text>
<text x="459.9" y="770.4" font-size="15.2" fill="#1a1a1a" textLength="191.1" lengthAdjust="spacing">BP with high-density defects</text>
<text x="363.39" y="771.76" font-size="19.53" fill="#111" textLength="23.58" lengthAdjust="spacing">(h)</text>
</svg>
</body></html>
